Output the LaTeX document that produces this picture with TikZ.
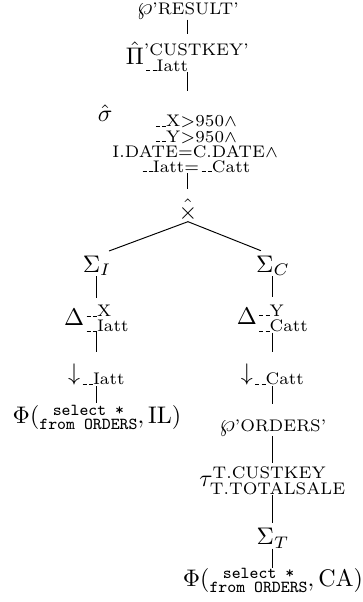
\documentclass[tikz,border=0pt]{standalone}
\usepackage{amsmath}
\newcommand{\us}{\leavevmode\kern.14em\vbox{\hrule width.24em}}
\newcommand{\sqlstack}{\vcenter{\hbox{$\scriptstyle\substack{\texttt{select *}\\ \texttt{from ORDERS}}$}}}
\begin{document}
\begin{tikzpicture}[node distance={22pt}, thin, main/.style = {inner sep=0pt}]
        \node[main] (1) {$\wp\text{\scriptsize'RESULT'}$};
        \node[main, node distance=19pt] (2) [below of=1] {$\hat\Pi^{\text{'CUSTKEY'}}_{\text{\us\us Iatt}}$};
        \node[main, node distance=34.4pt] (3) [below of=2] {$\hat\sigma\lower11pt\hbox{$\scriptstyle\substack{\text{\us\us X}>950\wedge\\ \text{\us\us Y}>950\wedge\\ \text{I.DATE}=\text{C.DATE}\wedge\\ \text{\us\us Iatt}=\text{\us\us Catt}}$}$};
        \node[main, node distance=29.6pt] (4) [below of=3] {$\hat\times$};
        \node[main, node distance=23.3pt] (5) [below of=4, xshift=-37.9pt] {$\Sigma_I$};
        \node[main, node distance=23.3pt] (9) [below of=4, xshift=35.4pt] {$\Sigma_C$};
        \node[main, node distance=21.9pt] (6) [below of=5] {$\Delta^{\text{\us\us X}}_{\text{\us\us Iatt}}$};
        \node[main, node distance=21.9pt] (10) [below of=9] {$\Delta^{\text{\us\us Y}}_{\text{\us\us Catt}}$};
        \node[main, node distance=23.5pt] (7) [below of=6] {$\downarrow_{\text{\us\us Iatt}}$};
        \node[main, node distance=23.5pt] (11) [below of=10] {$\downarrow_{\text{\us\us Catt}}$};
        \node[main, node distance=17.7pt] (8) [below of=7] {$\Phi(\sqlstack, \mathrm{IL})$};
        \node[main] (12) [below of=11] {$\wp\text{\scriptsize'ORDERS'}$};
        \node[main] (13) [below of=12] {$\tau^{\text{T.CUSTKEY}}_{\text{T.TOTALSALE}}$};
        \node[main, node distance=24pt] (14) [below of=13] {$\Sigma_T$};
        \node[main, node distance=17.7pt] (15) [below of=14] {$\Phi(\sqlstack, \mathrm{CA})$};
        \draw[shorten >=2.9pt] (1) -- (2);
        \draw[shorten >=5.8pt] (2) -- (3);
        \draw[shorten >=3.7pt] (3) -- (4);
        \draw[shorten >=5.4pt] (4.south) -- (5.north);
        \draw[shorten >=5.4pt] (4.south) -- (9.north);
        \draw[shorten >=2.9pt] (5) -- (6);
        \draw[shorten >=5pt] (6) -- (7);
        \draw[shorten >=0.8pt] (7) -- (8);
        \draw[shorten >=2.9pt] (9) -- (10);
        \draw[shorten >=5pt] (10) -- (11);
        \draw[shorten >=6.2pt] (11) -- (12);
        \draw[shorten >=1.2pt] (12) -- (13);
        \draw[shorten >=2pt] (13) -- (14);
        \draw (14) -- (15);
        \useasboundingbox ([xshift=-78.3pt, yshift=4.5pt]1.center) rectangle ++(150.4pt,-250.8pt);
    \end{tikzpicture}
\end{document}
